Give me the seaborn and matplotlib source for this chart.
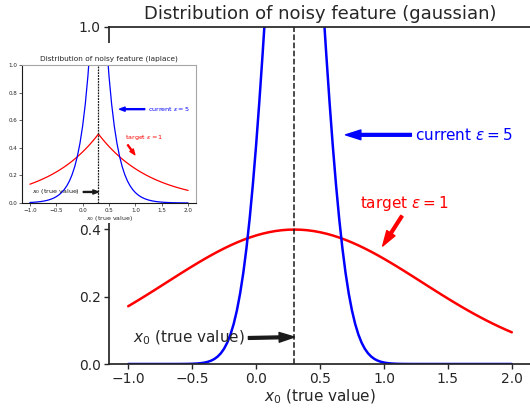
import matplotlib
matplotlib.use("Agg")
import matplotlib.pyplot as plt
from matplotlib.patches import Rectangle
import seaborn as sns

# sample positions (x0 grid) and densities
x_vals = [-1.00, -0.95, -0.90, -0.85, -0.80, -0.75, -0.70, -0.65, -0.60, -0.55,
          -0.50, -0.45, -0.40, -0.35, -0.30, -0.25, -0.20, -0.15, -0.10, -0.05,
          0.00, 0.05, 0.10, 0.15, 0.20, 0.25, 0.30, 0.35, 0.40, 0.45,
          0.50, 0.55, 0.60, 0.65, 0.70, 0.75, 0.80, 0.85, 0.90, 0.95,
          1.00, 1.05, 1.10, 1.15, 1.20, 1.25, 1.30, 1.35, 1.40, 1.45,
          1.50, 1.55, 1.60, 1.65, 1.70, 1.75, 1.80, 1.85, 1.90, 1.95, 2.00]

# finer grid for the narrow gaussian
x_fine = [-1.000,
          -0.700, -0.675, -0.650, -0.625, -0.600, -0.575, -0.550, -0.525, -0.500, -0.475,
          -0.450, -0.425, -0.400, -0.375, -0.350, -0.325, -0.300, -0.275, -0.250, -0.225,
          -0.200, -0.175, -0.150, -0.125, -0.100, -0.075, -0.050, -0.025, 0.000, 0.025,
          0.050, 0.075, 0.100, 0.125, 0.150, 0.175, 0.200, 0.225, 0.250, 0.275,
          0.300, 0.325, 0.350, 0.375, 0.400, 0.425, 0.450, 0.475, 0.500, 0.525,
          0.550, 0.575, 0.600, 0.625, 0.650, 0.675, 0.700, 0.725, 0.750, 0.775,
          0.800, 0.825, 0.850, 0.875, 0.900, 0.925, 0.950, 0.975, 1.000, 1.025,
          1.050, 1.075, 1.100, 1.125, 1.150, 1.175, 1.200, 1.225, 1.250, 1.275, 1.300,
          2.000]

# gaussian, target eps = 1
gauss_target = [0.17137, 0.18265, 0.19419, 0.20594, 0.21785, 0.22988, 0.24197, 0.25406, 0.26609, 0.27798,
                0.28969, 0.30114, 0.31225, 0.32297, 0.33322, 0.34294, 0.35207, 0.36052, 0.36827, 0.37524,
                0.38139, 0.38667, 0.39104, 0.39448, 0.39695, 0.39844, 0.39894, 0.39844, 0.39695, 0.39448,
                0.39104, 0.38667, 0.38139, 0.37524, 0.36827, 0.36052, 0.35207, 0.34294, 0.33322, 0.32297,
                0.31225, 0.30114, 0.28969, 0.27798, 0.26609, 0.25406, 0.24197, 0.22988, 0.21785, 0.20594,
                0.19419, 0.18265, 0.17137, 0.16038, 0.14973, 0.13943, 0.12952, 0.12001, 0.11092, 0.10226, 0.09405]

# gaussian, current eps = 5 (on x_fine)
gauss_current = [0.0,
                 0.00001, 0.00001, 0.00003, 0.00005, 0.00008, 0.00014, 0.00024, 0.00040, 0.00067, 0.00109,
                 0.00176, 0.00280, 0.00436, 0.00671, 0.01015, 0.01511, 0.02216, 0.03199, 0.04547, 0.06362,
                 0.08764, 0.11886, 0.15870, 0.20860, 0.26995, 0.34393, 0.43139, 0.53271, 0.64759, 0.77508,
                 0.91325, 1.05939, 1.20985, 1.36029, 1.50569, 1.64081, 1.76033, 1.85928, 1.93334, 1.97919,
                 1.99471, 1.97919, 1.93334, 1.85928, 1.76033, 1.64081, 1.50569, 1.36029, 1.20985, 1.05939,
                 0.91325, 0.77508, 0.64759, 0.53271, 0.43139, 0.34393, 0.26995, 0.20860, 0.15870, 0.11886,
                 0.08764, 0.06362, 0.04547, 0.03199, 0.02216, 0.01511, 0.01015, 0.00671, 0.00436, 0.00280,
                 0.00176, 0.00109, 0.00067, 0.00040, 0.00024, 0.00014, 0.00008, 0.00005, 0.00003, 0.00001, 0.00001,
                 0.0]

# laplace, target eps = 1
lap_target = [0.13627, 0.14325, 0.15060, 0.15832, 0.16644, 0.17497, 0.18394, 0.19337, 0.20328, 0.21371,
              0.22466, 0.23618, 0.24829, 0.26102, 0.27441, 0.28847, 0.30327, 0.31881, 0.33516, 0.35234,
              0.37041, 0.38940, 0.40937, 0.43035, 0.45242, 0.47561, 0.50000, 0.47561, 0.45242, 0.43035,
              0.40937, 0.38940, 0.37041, 0.35234, 0.33516, 0.31881, 0.30327, 0.28847, 0.27441, 0.26102,
              0.24829, 0.23618, 0.22466, 0.21371, 0.20328, 0.19337, 0.18394, 0.17497, 0.16644, 0.15832,
              0.15060, 0.14325, 0.13627, 0.12962, 0.12330, 0.11729, 0.11157, 0.10612, 0.10095, 0.09603, 0.09134]

# laplace, current eps = 5
lap_current = [0.00376, 0.00483, 0.00620, 0.00796, 0.01022, 0.01312, 0.01684, 0.02163, 0.02777, 0.03566,
               0.04579, 0.05880, 0.07549, 0.09694, 0.12447, 0.15982, 0.20521, 0.26350, 0.33834, 0.43444,
               0.55783, 0.71626, 0.91970, 1.18092, 1.51633, 1.94700, 2.50000, 1.94700, 1.51633, 1.18092,
               0.91970, 0.71626, 0.55783, 0.43444, 0.33834, 0.26350, 0.20521, 0.15982, 0.12447, 0.09694,
               0.07549, 0.05880, 0.04579, 0.03566, 0.02777, 0.02163, 0.01684, 0.01312, 0.01022, 0.00796,
               0.00620, 0.00483, 0.00376, 0.00293, 0.00228, 0.00178, 0.00138, 0.00108, 0.00084, 0.00065, 0.00051]

true_value = 0.3
label_current = r"current $\varepsilon = 5$"
label_target = r"target $\varepsilon = 1$"
label_true = r"$x_0$ (true value)"

sns.set_theme(style="ticks")
plt.rcParams['font.family'] = ['DejaVu Sans']

fig = plt.figure(figsize=(5.3, 4.08), dpi=100)

# main axes (gaussian)
ax = fig.add_axes([109 / 530, 44 / 408, 422 / 530, 337 / 408])
sns.lineplot(x=x_vals, y=gauss_target, ax=ax, color='red', lw=1.8)
sns.lineplot(x=x_fine, y=gauss_current, ax=ax, color='blue', lw=1.8)
ax.axvline(true_value, color='k', ls='--', lw=1.1)
ax.set_ylim(0, 1)
ax.set_title("Distribution of noisy feature (gaussian)", fontsize=13)
ax.set_xlabel(label_true, fontsize=11, labelpad=1)
ax.tick_params(labelsize=10, length=3.5, width=1, pad=2.5)
ax.spines['right'].set_visible(False)
for s in ax.spines.values():
    s.set_color('0.15')

ax.annotate(label_current, xy=(0.70, 0.68), xytext=(1.24, 0.68), color='blue', fontsize=11,
            va='center', ha='left',
            arrowprops=dict(facecolor='blue', edgecolor='blue', width=2, headwidth=7, headlength=11))
ax.annotate(label_target, xy=(0.99, 0.35), xytext=(0.81, 0.477), color='red', fontsize=11,
            va='center', ha='left',
            arrowprops=dict(facecolor='red', edgecolor='red', width=2, headwidth=7, headlength=11))
ax.annotate(label_true, xy=(true_value, 0.08), xytext=(-0.96, 0.077), color='0.15', fontsize=11,
            va='center', ha='left',
            arrowprops=dict(facecolor='k', edgecolor='k', width=2, headwidth=7, headlength=11))

# white patch behind the inset picture
fig.patches.append(Rectangle((0, 185 / 408), 200 / 530, 180 / 408, transform=fig.transFigure,
                             facecolor='white', edgecolor='none', zorder=1))

# inset (laplace)
ins = fig.add_axes([22 / 530, 205 / 408, 174 / 530, 138 / 408])
ins.set_zorder(2)
sns.lineplot(x=x_vals, y=lap_target, ax=ins, color='red', lw=0.9)
sns.lineplot(x=x_vals, y=lap_current, ax=ins, color='blue', lw=0.9)
ins.axvline(true_value, color='k', ls='--', lw=0.9, dashes=(1.5, 0.8))
ins.set_ylim(0, 1)
ins.set_title("Distribution of noisy feature (laplace)", fontsize=5.3, pad=3, color='0.15')
ins.set_xlabel(label_true, fontsize=4.5, labelpad=0.5)
ins.tick_params(labelsize=4.1, length=2, width=0.5, pad=1.5)
ins.spines['left'].set_color('k')
ins.spines['bottom'].set_color('k')
ins.spines['top'].set_color('0.65')
ins.spines['right'].set_color('0.65')
for s in ins.spines.values():
    s.set_linewidth(0.8)

ins.annotate(label_current, xy=(0.70, 0.68), xytext=(1.24, 0.68), color='blue', fontsize=4.6,
             va='center', ha='left',
             arrowprops=dict(facecolor='blue', edgecolor='blue', width=0.7, headwidth=3, headlength=4))
ins.annotate(label_target, xy=(0.99, 0.35), xytext=(0.81, 0.477), color='red', fontsize=4.6,
             va='center', ha='left',
             arrowprops=dict(facecolor='red', edgecolor='red', width=0.7, headwidth=3, headlength=4))
ins.annotate(label_true, xy=(true_value, 0.08), xytext=(-0.96, 0.08), color='k', fontsize=4.6,
             va='center', ha='left',
             arrowprops=dict(facecolor='k', edgecolor='k', width=0.7, headwidth=3, headlength=4))

fig.savefig("out.png", dpi=100)
